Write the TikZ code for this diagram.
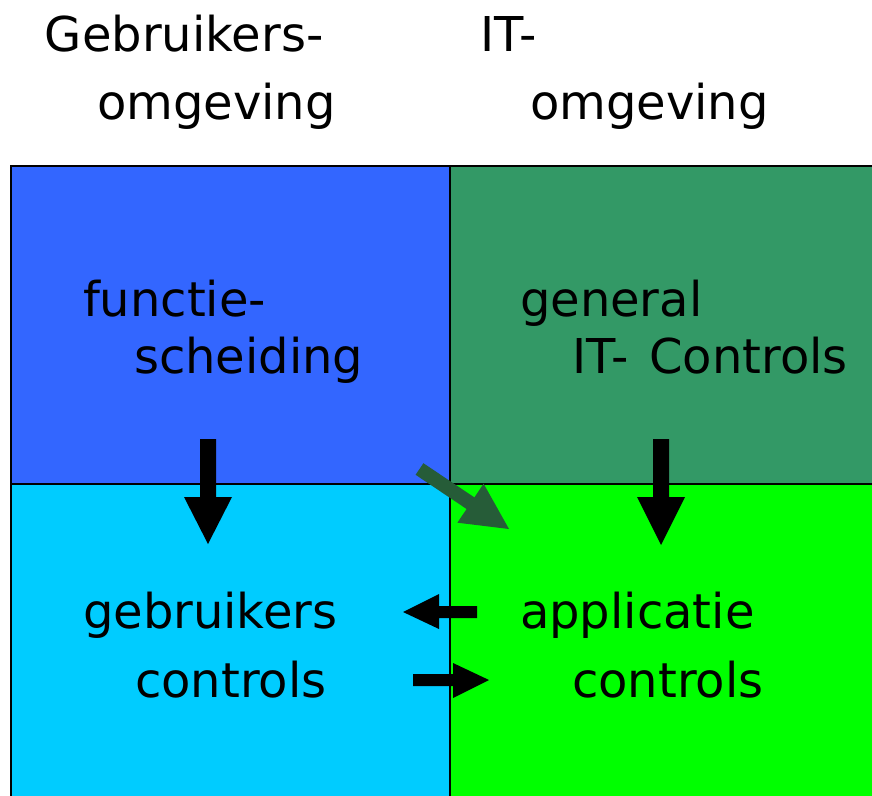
\documentclass[tikz,border=0pt]{standalone}
\usepackage{fontspec}
\setmainfont{DejaVu Sans}
\definecolor{qblue}{RGB}{51,102,255}
\definecolor{qgreen}{RGB}{51,153,102}
\definecolor{qcyan}{RGB}{0,204,255}
\definecolor{qlime}{RGB}{0,255,0}
\definecolor{darrow}{RGB}{38,92,56}
\tikzset{
  lbl/.style={anchor=base west, inner sep=0pt, outer sep=0pt, font=\fontsize{36}{40}\selectfont},
  gridline/.style={line width=2pt, draw=black},
  blockarrow/.style={fill=black},
}
\begin{document}
\begin{tikzpicture}[x=0.75pt,y=-0.75pt]
\useasboundingbox (0,0) rectangle (872,796);
\clip (0,0) rectangle (872,796);
% quadrants
\fill[qblue] (11,166) rectangle (450,484);
\fill[qgreen] (450,166) rectangle (880,484);
\fill[qcyan] (11,484) rectangle (450,800);
\fill[qlime] (450,484) rectangle (880,800);
\draw[gridline] (11,800) -- (11,166) -- (880,166);
\draw[gridline] (450,166) -- (450,800);
\draw[gridline] (11,484) -- (880,484);
% header texts
\node[lbl] (h1) at (45,51) {Gebruikers-};
\node[lbl] (h2) at (97,119) {omgeving};
\node[lbl] (h3) at (480,51) {IT-};
\node[lbl] (h4) at (530,119) {omgeving};
% quadrant texts
\node[lbl] (f1) at (83,316) {functie-};
\node[lbl] (f2) at (134,373) {scheiding};
\node[lbl] (g1) at (520,316) {general};
\node[lbl] (g2) at (572,373) {IT-\hspace{0.12em} Controls};
\node[lbl] (u1) at (83,628) {gebruikers};
\node[lbl] (u2) at (135,697) {controls};
\node[lbl] (a1) at (520,628) {applicatie};
\node[lbl] (a2) at (572,697) {controls};
% arrows
\fill[blockarrow] (200,439) -- (216,439) -- (216,497) -- (232,497) -- (208,544) -- (184,497) -- (200,497) -- cycle;
\fill[blockarrow] (653,439) -- (669,439) -- (669,497) -- (685,497) -- (661,545) -- (637,497) -- (653,497) -- cycle;
\fill[blockarrow] (477,606) -- (477,618) -- (439,618) -- (439,629) -- (403,612) -- (439,594) -- (439,606) -- cycle;
\fill[blockarrow] (413,674) -- (413,686) -- (453,686) -- (453,698) -- (489,680) -- (453,663) -- (453,674) -- cycle;
\fill[darrow] (423.4,463.2) -- (474.4,497.4) -- (483.6,483.7) -- (509,529) -- (457.4,522.7) -- (466.6,509.0) -- (415.6,474.8) -- cycle;
\end{tikzpicture}
\end{document}
